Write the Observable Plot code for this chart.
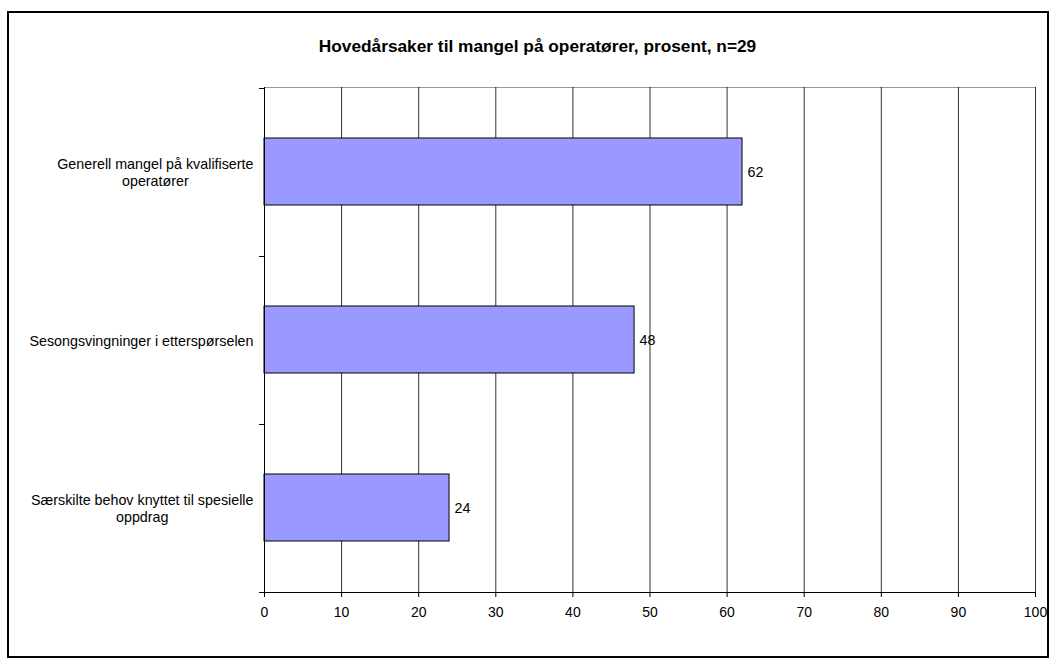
<!DOCTYPE html>
<html><head><meta charset="utf-8">
<script src="https://cdn.jsdelivr.net/npm/d3@7"></script>
<script src="https://cdn.jsdelivr.net/npm/@observablehq/plot@0.6"></script>
<style>
body{margin:0;background:#fff;font-family:"Liberation Sans",Arial,sans-serif;}
#wrap{position:relative;width:1057px;height:666px;overflow:hidden;}
#frame{position:absolute;left:7px;top:11px;width:1042px;height:647px;border:2px solid #000;box-sizing:border-box;pointer-events:none;}
#title{position:absolute;left:0;top:36px;width:1075px;text-align:center;font-weight:bold;font-size:17.3px;line-height:20px;color:#000;}
#chart{position:absolute;left:0;top:0;}
</style></head>
<body>
<div id="wrap">
  <div id="chart"></div>
  <div id="frame"></div>
  <div id="title">Hovedårsaker til mangel på operatører, prosent, n=29</div>
</div>
<script>
const categories = [
  "Generell mangel på kvalifiserte\noperatører",
  "Sesongsvingninger i etterspørselen",
  "Særskilte behov knyttet til spesielle\noppdrag"
];
const values = [62, 48, 24];
const xTicks = [0, 10, 20, 30, 40, 50, 60, 70, 80, 90, 100];

const data = categories.map((c, i) => ({cat: c, value: values[i]}));

// small outward ticks on the y axis at the band boundaries, placed via the y scale
function bandBoundaryTicks(index, scales) {
  const y = scales.y;
  const pos = categories.map(c => y(c));
  const step = pos.length > 1 ? pos[1] - pos[0] : 0;
  const bw = (scales.scales && scales.scales.y && scales.scales.y.bandwidth) || step * 0.4;
  const gap = (step - bw) / 2;
  const xs = scales.x(0);
  const ys = pos.map(p => p - gap).concat([pos[pos.length - 1] + bw + gap]);
  const g = d3.create("svg:g").attr("stroke", "#000").attr("stroke-width", 1);
  g.selectAll("line").data(ys).join("line")
    .attr("x1", xs - 5).attr("x2", xs)
    .attr("y1", d => Math.round(d) + 0.5).attr("y2", d => Math.round(d) + 0.5);
  return g.node();
}

const chart = Plot.plot({
  width: 1057,
  height: 666,
  marginLeft: 264,
  marginRight: 22,
  marginTop: 87,
  marginBottom: 74,
  style: {fontFamily: "'Liberation Sans', Arial, sans-serif", fontSize: "14.3px", color: "#000", background: "transparent", overflow: "visible"},
  x: {domain: [0, 100], label: null},
  y: {domain: categories, paddingInner: 0.6, paddingOuter: 0.3, label: null},
  marks: [
    Plot.frame({anchor: "top", stroke: "#999"}),
    Plot.gridX(xTicks.slice(1), {stroke: "#000", strokeOpacity: 0.8}),
    Plot.barX(data, {x: "value", y: "cat", fill: "#9999ff", stroke: "#000", strokeWidth: 1}),
    Plot.text(data, {x: "value", y: "cat", text: d => String(d.value), textAnchor: "start", dx: 5, fill: "#000", fontSize: 14.3}),
    Plot.ruleX([0], {stroke: "#000"}),
    Plot.frame({anchor: "bottom", stroke: "#000"}),
    Plot.axisX(xTicks, {tickSize: 5, tickPadding: 10, fontSize: 14, stroke: "#000"}),
    Plot.axisY({tickSize: 0, tickPadding: 11, fontSize: 14.3, lineHeight: 1.2}),
    bandBoundaryTicks
  ]
});
document.getElementById("chart").appendChild(chart);

// center multi-line category labels within their block (right edge kept at the axis padding)
d3.select(chart).selectAll('g[aria-label="y-axis tick label"] text').each(function () {
  const t = d3.select(this);
  const spans = t.selectAll("tspan");
  if (spans.size() > 1) {
    let maxW = 0;
    spans.each(function () { maxW = Math.max(maxW, this.getComputedTextLength()); });
    t.attr("text-anchor", "middle");
    spans.attr("x", -maxW / 2);
  } else {
    const w = this.getComputedTextLength();
    t.attr("text-anchor", "middle").attr("x", -w / 2);
  }
});
</script>
</body></html>
